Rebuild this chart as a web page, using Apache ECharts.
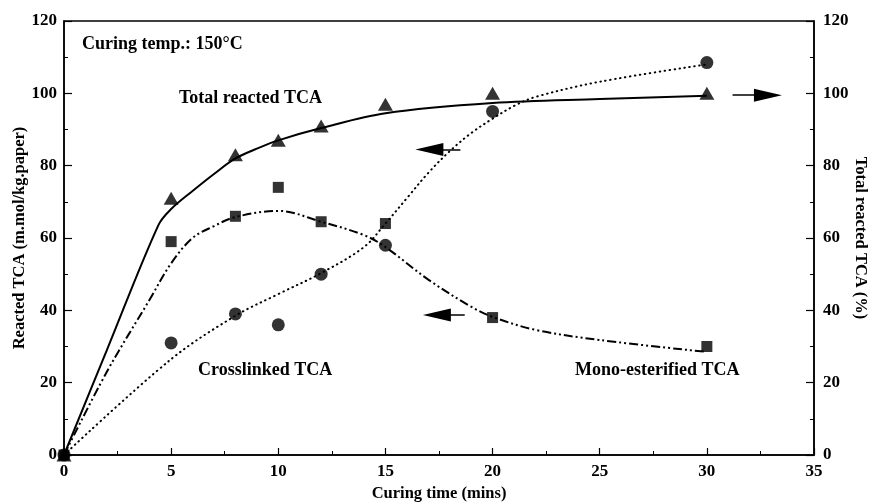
<!DOCTYPE html>
<html><head><meta charset="utf-8">
<script src="https://cdn.jsdelivr.net/npm/echarts@6/dist/echarts.min.js"></script>
<style>html,body{margin:0;padding:0;background:#fff}#c{width:870px;height:502px}</style>
</head><body><div id="c"></div>
<script>
// measured points
const curingTime = [0, 5, 8, 10, 12, 15, 20, 30];
const totalReacted = [0, 71, 83, 87, 91, 97, 100, 100];
const monoEsterified = [0, 59, 66, 74, 64.5, 64, 38, 30];
const crosslinked = [0, 31, 39, 36, 50, 58, 95, 108.5];

// fitted curves
const totalFitX = [0, 2, 4.4, 5, 6, 7, 8, 9, 10, 12, 15, 20, 25, 30];
const totalFitY = [0, 29, 63.5, 68, 73, 77.7, 82, 84.7, 87, 90.4, 94.5, 97.3, 98.4, 99.3];
const monoFitX = [0, 2, 4, 5, 6, 7, 8, 10, 12, 14, 15, 17, 19, 20, 22, 25, 30];
const monoFitY = [0, 23, 43, 53, 60, 63.3, 65.8, 67.5, 64.5, 60.8, 57.5, 48.5, 41, 38.2, 34.6, 31.8, 28.5];
const crossFitX = [0, 5, 8, 10, 12, 14, 15, 16, 17, 18, 19, 20, 21, 22, 25, 30];
const crossFitY = [0, 26.5, 38.5, 44.5, 50.3, 57.5, 64, 71, 78, 84, 89, 93, 96.5, 99, 103.2, 108];

// axis ticks
const xTicks = [0, 35, 5];
const yTicks = [0, 120, 20];

// annotation arrows [fromX, fromY, toX, toY]
const arrowRight = [31.2, 99.5, 32.85, 99.5];
const arrowLeft1 = [18.5, 84.5, 17.05, 84.5];
const arrowLeft2 = [18.7, 38.7, 17.4, 38.7];

const FONT = '"Liberation Serif", "Times New Roman", serif';
const pair = (xs, ys) => xs.map((x, i) => [x, ys[i]]);

const chart = echarts.init(document.getElementById('c'), null, {renderer: 'canvas'});
const axisLabel = {color: '#000', fontFamily: FONT, fontWeight: 'bold', fontSize: 17};
const nameStyle = {color: '#000', fontFamily: FONT, fontWeight: 'bold', fontSize: 16.5};
const arrowLine = (a) => [{coord: [a[0], a[1]]}, {coord: [a[2], a[3]]}];
const arrowMark = (a) => ({silent: true, symbol: ['none', 'triangle'], symbolSize: [13, 28], label: {show: false},
  lineStyle: {color: '#000', width: 1.5, type: 'solid'}, data: [arrowLine(a)]});
const ANN = 'bold 18px ' + FONT;

chart.setOption({
  animation: false,
  backgroundColor: '#fff',
  grid: {left: 64, right: 56, top: 21, bottom: 47, show: true, borderColor: '#000', borderWidth: 1.5,
         containLabel: false, outerBoundsMode: 'none'},
  xAxis: {
    type: 'value', min: xTicks[0], max: xTicks[1], interval: xTicks[2],
    axisLine: {lineStyle: {color: '#000', width: 1.5}},
    axisTick: {inside: true, length: 7, lineStyle: {color: '#000', width: 1.2}},
    minorTick: {show: true, splitNumber: 2, length: 4, lineStyle: {color: '#000'}},
    splitLine: {show: false},
    axisLabel: Object.assign({margin: 8}, axisLabel),
    name: 'Curing time (mins)', nameLocation: 'middle', nameGap: 30, nameTextStyle: nameStyle
  },
  yAxis: [{
    type: 'value', min: yTicks[0], max: yTicks[1], interval: yTicks[2], position: 'left',
    axisLine: {show: true, lineStyle: {color: '#000', width: 1.5}},
    axisTick: {show: true, inside: true, length: 8, lineStyle: {color: '#000', width: 1.2}},
    minorTick: {show: true, splitNumber: 2, length: 4, lineStyle: {color: '#000'}},
    splitLine: {show: false},
    axisLabel: Object.assign({margin: 7}, axisLabel),
    name: 'Reacted TCA (m.mol/kg.paper)', nameLocation: 'middle', nameGap: 36, nameRotate: 90,
    nameMoveOverlap: false, nameTextStyle: nameStyle
  }, {
    type: 'value', min: yTicks[0], max: yTicks[1], interval: yTicks[2], position: 'right',
    axisLine: {show: true, lineStyle: {color: '#000', width: 1.5}},
    axisTick: {show: true, inside: true, length: 8, lineStyle: {color: '#000', width: 1.2}},
    minorTick: {show: true, splitNumber: 2, length: 4, lineStyle: {color: '#000'}},
    splitLine: {show: false},
    axisLabel: Object.assign({margin: 9}, axisLabel),
    name: 'Total reacted TCA (%)', nameLocation: 'middle', nameGap: 38, nameRotate: -90,
    nameMoveOverlap: false, nameTextStyle: nameStyle
  }],
  graphic: [
    {type: 'text', left: 82, top: 35, style: {text: 'Curing temp.: 150°C', font: ANN, fill: '#000'}},
    {type: 'text', left: 179, top: 89, style: {text: 'Total reacted TCA', font: ANN, fill: '#000'}},
    {type: 'text', left: 198, top: 361, style: {text: 'Crosslinked TCA', font: ANN, fill: '#000'}},
    {type: 'text', left: 575, top: 361, style: {text: 'Mono-esterified TCA', font: ANN, fill: '#000'}}
  ],
  series: [
    {type: 'line', yAxisIndex: 1, data: pair(totalFitX, totalFitY), showSymbol: false, smooth: 0.35,
     lineStyle: {color: '#000', width: 2}, z: 2, markLine: arrowMark(arrowRight)},
    {type: 'line', data: pair(monoFitX, monoFitY), showSymbol: false, smooth: 0.35,
     lineStyle: {color: '#000', width: 2, type: [9, 3, 2, 3, 2, 3]}, z: 2, markLine: arrowMark(arrowLeft2)},
    {type: 'line', data: pair(crossFitX, crossFitY), showSymbol: false, smooth: 0.35,
     lineStyle: {color: '#000', width: 2, type: [0.5, 4.5], cap: 'round'}, z: 2, markLine: arrowMark(arrowLeft1)},
    {type: 'scatter', yAxisIndex: 1, data: pair(curingTime, totalReacted), symbol: 'triangle', symbolSize: [15, 13],
     itemStyle: {color: '#000'}, z: 3},
    {type: 'scatter', data: pair(curingTime, monoEsterified), symbol: 'rect', symbolSize: 11,
     itemStyle: {color: '#000'}, z: 3},
    {type: 'scatter', data: pair(curingTime, crosslinked), symbol: 'circle', symbolSize: 13,
     itemStyle: {color: '#000'}, z: 3}
  ]
});
</script></body></html>
